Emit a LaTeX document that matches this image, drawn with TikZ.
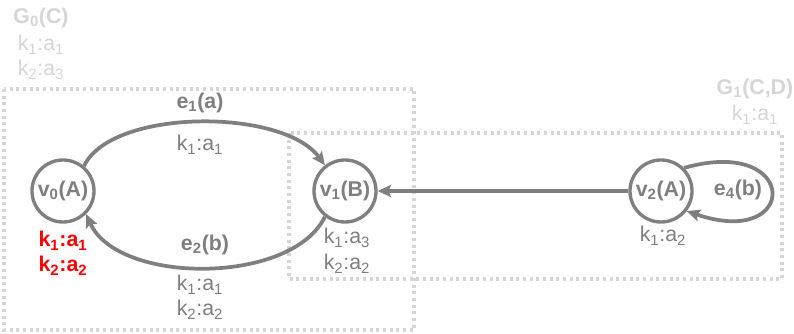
\documentclass[tikz,border=0pt]{standalone}
\usepackage{fontspec}
\setmainfont{Liberation Sans}
\usetikzlibrary{arrows.meta}
\definecolor{edgegray}{HTML}{7F7F7F}
\definecolor{boxgray}{HTML}{D6D6D6}
\definecolor{keyred}{HTML}{FF0000}
\newcommand{\kv}[2]{k\textsubscript{#1}:a\textsubscript{#2}}
\tikzset{
  txt/.style={font=\fontsize{16}{18}\selectfont},
  vertex/.style={circle, draw=edgegray, line width=2.5pt, minimum size=46.5pt, inner sep=0pt,
    text=edgegray, font=\fontsize{16}{18}\selectfont\bfseries},
  link/.style={draw=edgegray, line width=2.8pt, -{Stealth[length=10pt,width=9pt,inset=2pt]}},
  group/.style={draw=boxgray, line width=2.3pt, dash pattern=on 2.3pt off 2.7pt},
  grouplabel/.style={text=boxgray, txt, inner sep=0pt},
  attr/.style={text=edgegray, txt, inner sep=0pt},
  redattr/.style={text=keyred, font=\fontsize{16}{18}\selectfont\bfseries, inner sep=0pt},
  elabel/.style={text=edgegray, font=\fontsize{16}{18}\selectfont\bfseries, inner sep=0pt}
}
\begin{document}
\begin{tikzpicture}[x=0.75pt,y=-0.75pt]
\useasboundingbox (0,0) rectangle (794,334);

% group boxes
\draw[group] (4,89) rectangle (414,330);
\draw[group] (289,133) rectangle (782,279);

% group labels
\node[grouplabel, font=\fontsize{16}{18}\selectfont\bfseries] (g0) at (41,18) {G\textsubscript{0}(C)};
\node[grouplabel] (g0k1) at (41,45) {\kv{1}{1}};
\node[grouplabel] (g0k2) at (41,70) {\kv{2}{3}};
\node[grouplabel, font=\fontsize{16}{18}\selectfont\bfseries] (g1) at (755,89) {G\textsubscript{1}(C,D)};
\node[grouplabel] (g1k1) at (755,115) {\kv{1}{1}};

% vertices
\node[vertex] (v0) at (63,191) {v\textsubscript{0}(A)};
\node[vertex] (v1) at (345,191) {v\textsubscript{1}(B)};
\node[vertex] (v2) at (661,191) {v\textsubscript{2}(A)};

% vertex attributes
\node[redattr] (v0k1) at (63,241) {\kv{1}{1}};
\node[redattr] (v0k2) at (63,266) {\kv{2}{2}};
\node[attr] (v1k1) at (347,238) {\kv{1}{3}};
\node[attr] (v1k2) at (347,264) {\kv{2}{2}};
\node[attr] (v2k1) at (663,236) {\kv{1}{2}};

% edges
\draw[link] (v0.50) .. controls (112,108) and (283,108) .. (v1.128);
\draw[link] (v1.-128) .. controls (292,285) and (118,285) .. (v0.-45);
\draw[link] (v2) -- (v1);
\draw[link] (v2.45) .. controls (800,135) and (800,250) .. (v2.-38);

% edge labels
\node[elabel] (e1) at (200,103) {e\textsubscript{1}(a)};
\node[attr] (e1k1) at (200,145) {\kv{1}{1}};
\node[elabel] (e2) at (205,245) {e\textsubscript{2}(b)};
\node[attr] (e2k1) at (200,285) {\kv{1}{1}};
\node[attr] (e2k2) at (200,310) {\kv{2}{2}};
\node[elabel] (e4) at (738,190) {e\textsubscript{4}(b)};
\end{tikzpicture}
\end{document}
